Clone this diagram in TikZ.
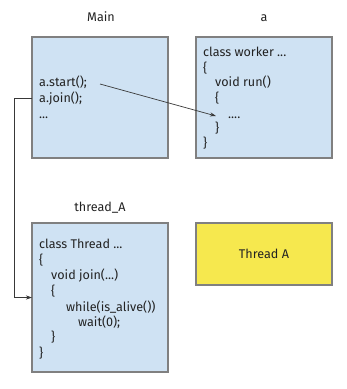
\documentclass[tikz,border=0pt]{standalone}
\usepackage{fontspec}
\setmainfont{Fira Sans}
\usetikzlibrary{arrows.meta}
\definecolor{boxblue}{HTML}{CFE2F3}
\definecolor{boxyellow}{HTML}{F6E84E}
\definecolor{boxline}{HTML}{808080}
\definecolor{txt}{HTML}{222222}
\begin{document}
\begin{tikzpicture}[x=1pt,y=-1pt,
  box/.style={draw=boxline,line width=1.2pt,fill=boxblue},
  ybox/.style={draw=boxline,line width=1.2pt,fill=boxyellow},
  code/.style={anchor=base west,inner sep=0pt,font=\fontsize{12.6}{14}\selectfont,text=txt},
  title/.style={anchor=base,inner sep=0pt,font=\fontsize{12.6}{14}\selectfont,text=txt},
  conn/.style={draw=txt!90,line width=0.7pt,-{Stealth[length=6pt,width=4pt]}}]
\useasboundingbox (0,0) rectangle (347,389);
\fill[white] (0,0) rectangle (347,389);
% boxes
\draw[box] (32,37) rectangle (168,158);
\draw[box] (196,37) rectangle (332,158);
\draw[box] (32,223) rectangle (168,372);
\draw[ybox] (196,223) rectangle (332,285) node[midway,font=\fontsize{12.6}{14}\selectfont,text=txt] (tA) {Thread A};
% titles
\node[title] (tmain) at (101,21) {Main};
\node[title] (ta) at (264,21) {a};
\node[title] (tthr) at (100,211) {thread\_A};
% main code
\node[code] (start) at (39,86) {a.start();};
\node[code] (join) at (39,102) {a.join();};
\node[code] (dots) at (39,118) {...};
% worker code
\node[code] (w1) at (203,56) {class worker ...};
\node[code] (w2) at (203,72) {\{};
\node[code] (w3) at (215,86) {void run()};
\node[code] (w4) at (215,102) {\{};
\node[code] (w5) at (228,118) {....};
\node[code] (w6) at (215,132) {\}};
\node[code] (w7) at (203,147) {\}};
% thread code
\node[code] (t1) at (39,248) {class Thread ...};
\node[code] (t2) at (39,264) {\{};
\node[code] (t3) at (51,279) {void join(...)};
\node[code] (t4) at (51,295) {\{};
\node[code] (t5) at (66,311) {while(is\_alive())};
\node[code] (t6) at (78,326) {wait(0);};
\node[code] (t7) at (51,341) {\}};
\node[code] (t8) at (39,357) {\}};
% connectors
\coordinate (s0) at (100,84);
\coordinate (s1) at (216,116);
\draw[conn] (s0) -- (s1);
\coordinate (j0) at (32,98);
\coordinate (j1) at (32,297.5);
\draw[conn] (j0) -- (14,98) -- (14,297.5) -- (j1);
\end{tikzpicture}
\end{document}
